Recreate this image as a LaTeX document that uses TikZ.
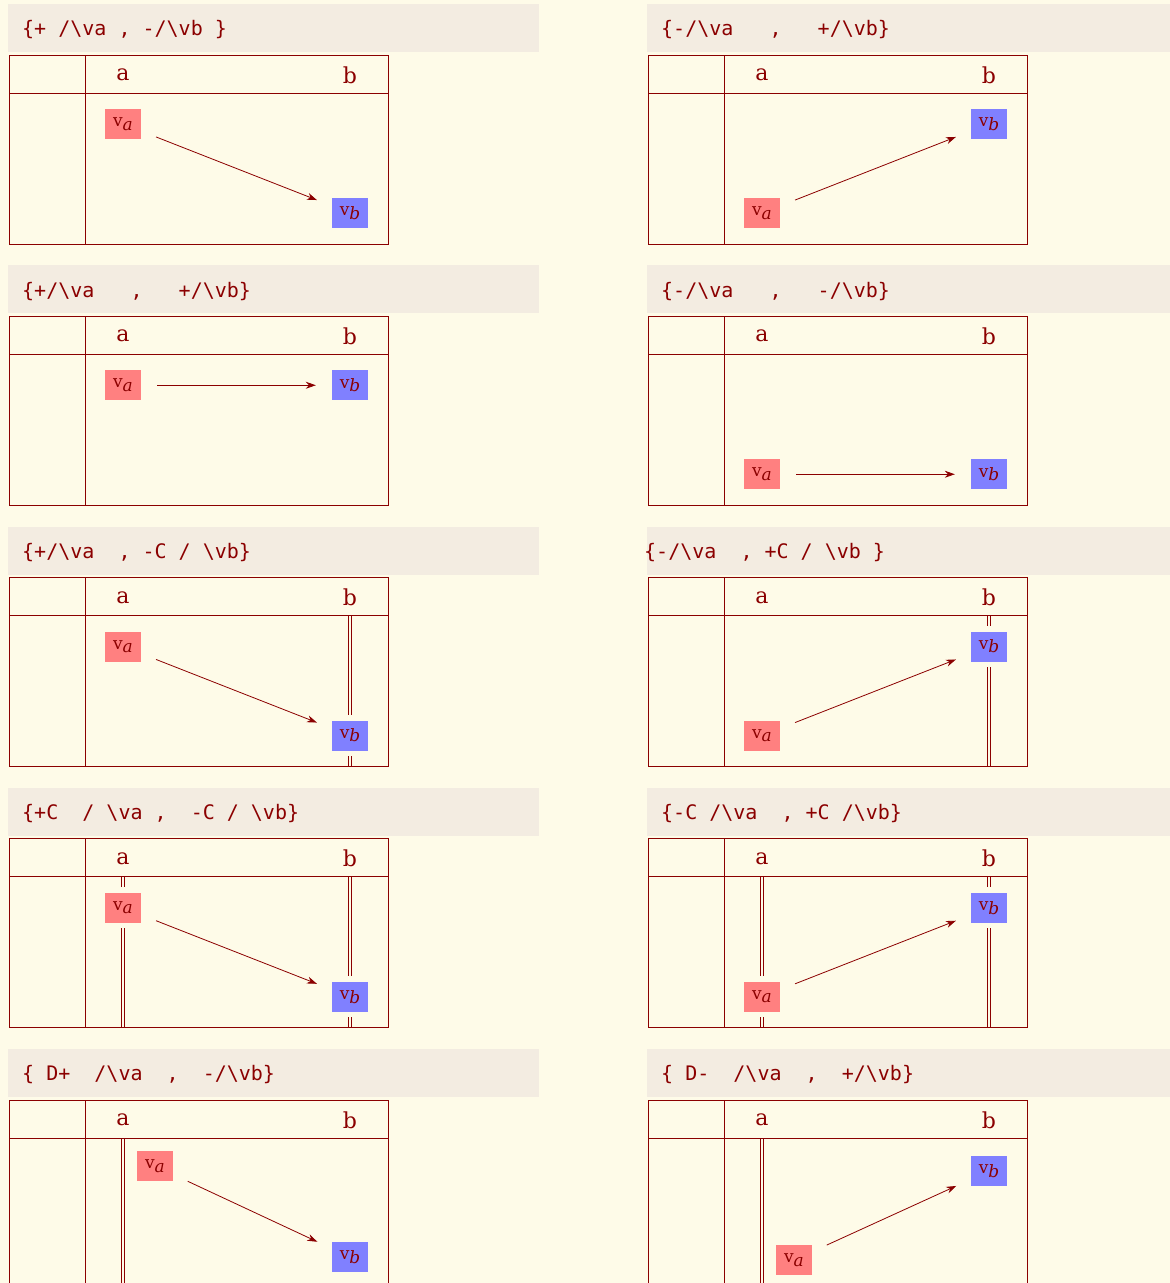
\documentclass[tikz,border=0pt]{standalone}
\usepackage{fontspec}
\usepackage{tikz}
\usetikzlibrary{arrows.meta}
\setmainfont{DejaVu Serif}
\newfontfamily\codefont{DejaVu Sans Mono}
\definecolor{pagebg}{RGB}{254,251,232}
\definecolor{headbg}{RGB}{243,236,225}
\definecolor{ink}{RGB}{139,0,0}
\definecolor{redbox}{RGB}{255,128,128}
\definecolor{bluebox}{RGB}{128,128,255}
\newcommand{\bs}{\textbackslash}
\newcommand{\vsub}[1]{v\raisebox{-3.5pt}{\itshape #1}}
\tikzstyle{tabline} = [draw=ink, line width=0.9pt]
\tikzstyle{colline} = [draw=ink, line width=0.8pt, double=pagebg, double distance=2.2pt]
\tikzstyle{headtext} = [anchor=west, inner sep=0pt, text=ink,
font=\codefont\fontsize{20}{24}\selectfont]
\tikzstyle{collabel} = [inner sep=0pt, text=ink, font=\fontsize{22}{26}\selectfont]
\tikzstyle{vnode} = [rectangle,
minimum width=36pt,
minimum height=30pt,
inner sep=0pt,
text=ink,
font=\fontsize{17}{20}\selectfont,
preaction={draw=pagebg, line width=11pt}]
\tikzstyle{nodea} = [vnode, fill=redbox]
\tikzstyle{nodeb} = [vnode, fill=bluebox]
\tikzstyle{arrow} = [draw=ink, line width=0.8pt, -{Stealth[length=10pt,width=7pt]},
shorten >=16pt, shorten <=16pt]
\newcommand{\frametable}[3][13]{%
  \fill[headbg] (-1,-51) rectangle (530,-3);
  \node[headtext] (#2head) at (#1,-25) {#3};
  \node[collabel] (#2cola) at (114,20) {a};
  \node[collabel] (#2colb) at (341,20) {b};
}
\newcommand{\tablelines}{%
  \draw[tabline] (0,0) rectangle (379,189);
  \draw[tabline] (76,0) -- (76,189);
  \draw[tabline] (0,38) -- (379,38);
}
\begin{document}
\begin{tikzpicture}[x=1pt, y=-1pt]
    \fill[pagebg] (0,0) rectangle (1170,1283);
    \useasboundingbox (0,0) rectangle (1170,1283);

    \begin{scope}[shift={(9,55)}]
        \frametable{p1}{\{+~/\bs va~,~-/\bs vb~\}}
        \tablelines
        \node (va1) [nodea] at (114,69) {\vsub{a}};
        \node (vb1) [nodeb] at (341,158) {\vsub{b}};
        \draw [arrow] (va1) -- (vb1);
    \end{scope}
    \begin{scope}[shift={(648,55)}]
        \frametable{p2}{\{-/\bs va~~~,~~~+/\bs vb\}}
        \tablelines
        \node (va2) [nodea] at (114,158) {\vsub{a}};
        \node (vb2) [nodeb] at (341,69) {\vsub{b}};
        \draw [arrow] (va2) -- (vb2);
    \end{scope}

    \begin{scope}[shift={(9,316.25)}]
        \frametable{p3}{\{+/\bs va~~~,~~~+/\bs vb\}}
        \tablelines
        \node (va3) [nodea] at (114,69) {\vsub{a}};
        \node (vb3) [nodeb] at (341,69) {\vsub{b}};
        \draw [arrow] (va3) -- (vb3);
    \end{scope}
    \begin{scope}[shift={(648,316.25)}]
        \frametable{p4}{\{-/\bs va~~~,~~~-/\bs vb\}}
        \tablelines
        \node (va4) [nodea] at (114,158) {\vsub{a}};
        \node (vb4) [nodeb] at (341,158) {\vsub{b}};
        \draw [arrow] (va4) -- (vb4);
    \end{scope}

    \begin{scope}[shift={(9,577.5)}]
        \frametable{p5}{\{+/\bs va~~,~-C~/~\bs vb\}}
        \draw [colline] (341,38) -- (341,189);
        \tablelines
        \node (va5) [nodea] at (114,69) {\vsub{a}};
        \node (vb5) [nodeb] at (341,158) {\vsub{b}};
        \draw [arrow] (va5) -- (vb5);
    \end{scope}
    \begin{scope}[shift={(648,577.5)}]
        \frametable[-4]{p6}{\{-/\bs va~~,~+C~/~\bs vb~\}}
        \draw [colline] (341,38) -- (341,189);
        \tablelines
        \node (va6) [nodea] at (114,158) {\vsub{a}};
        \node (vb6) [nodeb] at (341,69) {\vsub{b}};
        \draw [arrow] (va6) -- (vb6);
    \end{scope}

    \begin{scope}[shift={(9,838.75)}]
        \frametable{p7}{\{+C~~/~\bs va~,~~-C~/~\bs vb\}}
        \draw [colline] (114,38) -- (114,189);
        \draw [colline] (341,38) -- (341,189);
        \tablelines
        \node (va7) [nodea] at (114,69) {\vsub{a}};
        \node (vb7) [nodeb] at (341,158) {\vsub{b}};
        \draw [arrow] (va7) -- (vb7);
    \end{scope}
    \begin{scope}[shift={(648,838.75)}]
        \frametable{p8}{\{-C~/\bs va~~,~+C~/\bs vb\}}
        \draw [colline] (114,38) -- (114,189);
        \draw [colline] (341,38) -- (341,189);
        \tablelines
        \node (va8) [nodea] at (114,158) {\vsub{a}};
        \node (vb8) [nodeb] at (341,69) {\vsub{b}};
        \draw [arrow] (va8) -- (vb8);
    \end{scope}

    \begin{scope}[shift={(9,1100)}]
        \frametable{p9}{\{~D+~~/\bs va~~,~~-/\bs vb\}}
        \draw [colline] (114,38) -- (114,189);
        \tablelines
        \node (va9) [nodea] at (146,66) {\vsub{a}};
        \node (vb9) [nodeb] at (341,157) {\vsub{b}};
        \draw [arrow] (va9) -- (vb9);
    \end{scope}
    \begin{scope}[shift={(648,1100)}]
        \frametable{p10}{\{~D-~~/\bs va~~,~~+/\bs vb\}}
        \draw [colline] (114,38) -- (114,189);
        \tablelines
        \node (va10) [nodea] at (146,160) {\vsub{a}};
        \node (vb10) [nodeb] at (341,71) {\vsub{b}};
        \draw [arrow] (va10) -- (vb10);
    \end{scope}
\end{tikzpicture}
\end{document}
